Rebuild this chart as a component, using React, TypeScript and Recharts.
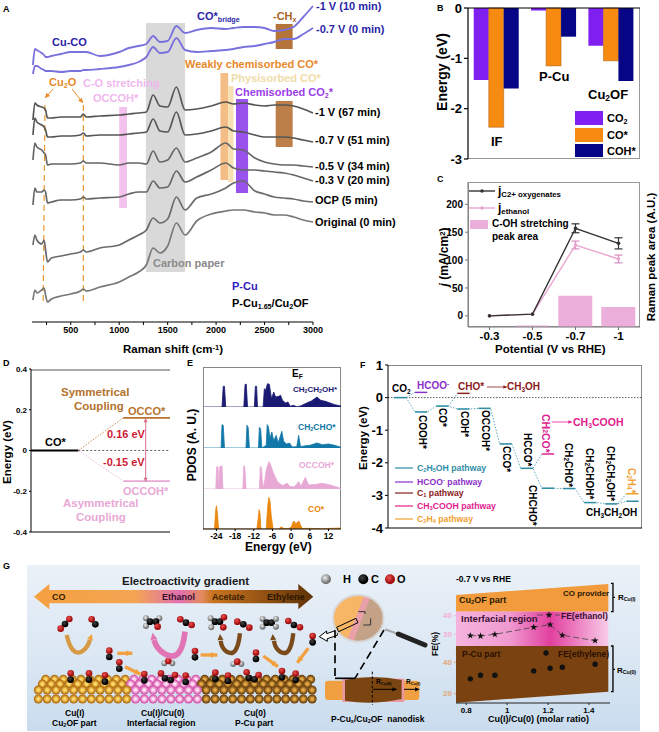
import React from "react";
import {
  Area, AreaChart, Bar, BarChart, ComposedChart, ErrorBar, Line, LineChart,
  ReferenceArea, ReferenceLine, Symbols, XAxis, YAxis,
} from "recharts";

const font = '"Liberation Sans", Arial, sans-serif';
const axisTick = (size: number, fill = "#000") => ({ fontSize: size, fontWeight: 700, fill, fontFamily: font });

// A: operando Raman spectra (intensity in a.u.)
const ramanShift = [110, 130, 150, 200, 225, 240, 260, 300, 400, 500, 600, 630, 660, 800, 1000, 1100, 1200, 1280, 1350, 1420, 1500, 1590, 1680, 1800, 1950, 2100, 2180, 2280, 2400, 2500, 2600, 2700, 2800, 2900, 3000];
const pCu10min = [257, 273, 272, 269, 267, 265, 265, 266, 268, 270, 270, 270, 270, 266, 270, 274, 276, 278, 286, 280, 281, 296, 289, 292, 294, 293, 294, 295, 295, 294, 291, 292, 295, 305, 316];
const pCu0min = [248, 256, 256, 253, 252, 251, 251, 251, 250, 251, 251, 252, 252, 253, 255, 257, 260, 265, 275, 269, 270, 284, 272, 270, 271, 272, 273, 275, 276, 278, 280, 283, 283, 288, 294];
const oxide67min = [202, 219, 217, 215, 214, 212, 204, 204, 205, 205, 205, 208, 205, 206, 207, 208, 209, 210, 227, 216, 215, 235, 212, 213, 216, 220, 218, 219, 217, 216, 217, 217, 216, 213, 209];
const oxide51min = [187, 204, 200, 197, 195, 192, 185, 185, 186, 186, 187, 189, 186, 187, 187, 188, 189, 190, 203, 191, 190, 210, 187, 188, 191, 195, 191, 190, 187, 185, 185, 185, 184, 182, 180];
const oxide34min = [162, 179, 175, 172, 169, 167, 157, 158, 158, 158, 159, 161, 159, 159, 157, 159, 159, 158, 171, 160, 162, 174, 160, 164, 170, 179, 173, 172, 164, 160, 158, 157, 157, 156, 155];
const oxide20min = [117, 134, 130, 130, 132, 130, 119, 120, 122, 122, 123, 125, 123, 124, 125, 128, 130, 130, 141, 134, 135, 151, 140, 145, 152, 159, 154, 152, 152, 151, 150, 149, 147, 144, 141];
const oxideOcp = [77, 87, 82, 78, 82, 72, 60, 64, 66, 68, 70, 72, 70, 74, 77, 82, 87, 92, 104, 99, 103, 125, 112, 124, 128, 134, 139, 141, 131, 128, 125, 124, 123, 121, 120];
const oxideOriginal = [22, 32, 29, 32, 34, 27, 20, 23, 26, 28, 31, 33, 31, 35, 40, 45, 50, 57, 74, 69, 76, 99, 87, 101, 108, 111, 112, 112, 110, 109, 107, 107, 105, 102, 100];
const ramanTicks = [250, 500, 750, 1000, 1250, 1500, 1750, 2000, 2250, 2500, 2750, 3000];

// B: adsorption energies
const sites = ["IF", "P-Cu", "Cu2OF"];
const co2Energy = [-1.43, -0.05, -0.75];
const coEnergy = [-2.37, -1.15, -1.05];
const cohEnergy = [-1.6, -0.57, -1.45];

// C: partial current density and peak area
const potentials = ["-0.3", "-0.5", "-0.7", "-1"];
const jOxygenates = [0, 3, 157, 130];
const jOxygenatesErr = [0, 0, 8, 10];
const jEthanol = [0, 3, 127, 102];
const jEthanolErr = [0, 0, 7, 7];
const peakArea = [0, 1, 21.6, 13.8];

// D: coupling barriers
const couplingEnergy = { co: 0, occo: 0.16, occoh: -0.15 };

// E: PDOS curves
const coPdosE = [-28, -24.6, -24.3, -24, -23.7, -23.3, -11, -10.6, -10.3, -10, -9.7, -8, -7.6, -7.2, -6.8, -6.4, -5.8, -4, -3.4, -3, -2.5, -1, 0, 0.5, 0.9, 1.5, 2, 2.5, 3, 3.6, 5, 10, 16];
const coPdos = [0, 0, 50, 70, 50, 0, 0, 30, 58, 45, 0, 0, 60, 95, 85, 40, 0, 0, 5, 6, 2, 1, 5, 18, 24, 16, 20, 24, 12, 1, 2, 1, 3];
const occohE = [-28, -24.2, -23.9, -23.5, -23.2, -22.9, -22.6, -22.2, -21.9, -15.5, -15.2, -14.9, -14.5, -10.2, -9.9, -9.5, -9.1, -8.4, -8, -7.5, -7.1, -6.7, -6.2, -5.7, -5.2, -4.4, -3.5, -2.6, -1.4, -0.4, 1, 2.4, 3.2, 4.5, 5.6, 8, 10, 12.5, 16];
const occohPdos = [0, 0, 66, 68, 5, 65, 70, 68, 0, 0, 70, 68, 0, 0, 68, 62, 0, 30, 58, 72, 82, 76, 62, 48, 38, 22, 15, 10, 18, 8, 6, 22, 8, 35, 12, 14, 17, 12, 2];
const ch2choE = [-28, -22.5, -22.2, -21.8, -21.4, -14.5, -14.2, -13.8, -13.4, -10.5, -10.2, -9.8, -9.4, -8, -7.7, -7.3, -6.8, -6.2, -5.6, -4.8, -4.2, -3.5, -3, -2.4, -1.5, -0.5, 0.3, 1.8, 2.4, 3, 4, 6, 8.3, 10, 12, 14, 16];
const ch2choPdos = [0, 0, 70, 68, 0, 0, 68, 62, 0, 0, 62, 58, 0, 8, 70, 64, 30, 48, 22, 38, 15, 35, 50, 20, 12, 15, 3, 4, 38, 4, 6, 8, 15, 10, 12, 8, 2];
const ch2ch2ohE = [-28, -22.2, -21.8, -21.4, -21, -15.2, -14.8, -14.4, -14, -11.8, -11.5, -11.1, -10.8, -9, -8.6, -8.2, -7.6, -7, -6.3, -5.6, -5, -4, -3.4, -2.8, -1.8, -1, -0.3, 0.7, 1.8, 3, 5, 6.5, 8.3, 9.5, 11, 12.5, 14, 16];
const ch2ch2ohPdos = [0, 0, 62, 62, 0, 0, 68, 68, 0, 0, 62, 62, 0, 0, 55, 50, 70, 68, 25, 45, 30, 32, 35, 20, 12, 15, 2, 5, 1, 3, 12, 18, 30, 20, 17, 12, 7, 3];
const pdosTicks = [-24, -18, -12, -6, 0, 6, 12];

// F: free energy diagram
const pathwayEnergy = [0, -0.44, -0.26, -0.35, -0.33, -1.42, -2.17, -2.78, -2.79, -3.22, -3.26, -3.18];
const branchStep = [1, 3, 7, 11];
const branchFrom = [0, 2, 6, 10];
const branchEnergy = [0.16, 0.13, -1.73, -2.95];
const branchColors = ["#8b2fc9", "#8b2020", "#e0208f", "#f0a030"];

// G: FE vs Cu(I)/Cu(0) ratio
const molarRatio = [0.82, 0.87, 0.94, 1.13, 1.21, 1.27, 1.43];
const feEthanol = [29.3, 29.1, 30, 33.8, 35.2, 29.5, 26.6];
const feEthylene = [29.4, 31.7, 31.7, 34.5, 36.2, 36.8, 38.7];

const ramanRows = ramanShift.map((shift, i) => ({
  shift,
  a: pCu10min[i], b: pCu0min[i], c: oxide67min[i], d: oxide51min[i],
  e: oxide34min[i], f: oxide20min[i], g: oxideOcp[i], h: oxideOriginal[i],
}));
const energyRows = sites.map((site, i) => ({ site, co2: co2Energy[i], co: coEnergy[i], coh: cohEnergy[i] }));
const currentRows = potentials.map((p, i) => ({
  p, oxy: jOxygenates[i], oxyErr: jOxygenatesErr[i], eth: jEthanol[i], ethErr: jEthanolErr[i], area: peakArea[i],
}));
const zip = (xs: number[], ys: number[]) => xs.map((x, i) => ({ x, y: ys[i] }));
const feRows = molarRatio.map((x, i) => ({ x, eth: feEthanol[i], ethy: feEthylene[i] }));

const level = (i: number, e: number) => [{ x: i - 0.29, e }, { x: i + 0.29, e }];
const pathwayRows = pathwayEnergy.flatMap((e, i) => level(i, e));

function Sub({ children }: any) {
  return <sub style={{ fontSize: ".65em", lineHeight: 0, verticalAlign: "-.25em" }}>{children}</sub>;
}
function Sup({ children }: any) {
  return <sup style={{ fontSize: ".65em", lineHeight: 0, verticalAlign: ".45em" }}>{children}</sup>;
}
// x, y = left edge and cap top of the text
function T({ x, y, s = 11, c = "#000", children }: any) {
  return (
    <div style={{ position: "absolute", left: x, top: y - 0.13 * s, fontSize: s, color: c, fontWeight: 700, lineHeight: 1, whiteSpace: "nowrap" }}>
      {children}
    </div>
  );
}
function RotUp({ cx, cy, s = 12, c = "#000", children }: any) {
  return (
    <div style={{ position: "absolute", left: cx, top: cy, fontSize: s, color: c, fontWeight: 700, lineHeight: 1, whiteSpace: "nowrap", transform: "translate(-50%,-50%) rotate(-90deg)" }}>
      {children}
    </div>
  );
}
function RotDown({ cx, y, s = 10, c = "#000", children }: any) {
  return (
    <div style={{ position: "absolute", left: cx - s / 2, top: y, fontSize: s, color: c, fontWeight: 700, lineHeight: 1, whiteSpace: "nowrap", writingMode: "vertical-rl" }}>
      {children}
    </div>
  );
}
function Box({ x1, y1, x2, y2, style }: any) {
  return <div style={{ position: "absolute", left: x1, top: y1, width: x2 - x1, height: y2 - y1, boxSizing: "border-box", ...style }} />;
}
function Head({ x, y, ang, size = 5, c }: any) {
  const a = (ang * Math.PI) / 180;
  const px = (t: number, w: number) => `${x - Math.cos(a) * t - Math.sin(a) * w},${y - Math.sin(a) * t + Math.cos(a) * w}`;
  return <polygon points={`${x},${y} ${px(size * 1.4, size * 0.7)} ${px(size * 1.4, -size * 0.7)}`} fill={c} />;
}
function Arrow({ x1, y1, x2, y2, c, sw = 1, size = 4 }: any) {
  const ang = (Math.atan2(y2 - y1, x2 - x1) * 180) / Math.PI;
  return (
    <g>
      <line x1={x1} y1={y1} x2={x2} y2={y2} stroke={c} strokeWidth={sw} />
      <Head x={x2} y={y2} ang={ang} size={size} c={c} />
    </g>
  );
}

function Molecule({ atoms }: { atoms: [string, number, number][] }) {
  const fill: any = { r: "url(#ballRed)", k: "url(#ballBlack)", h: "url(#ballGray)" };
  return <g>{atoms.map((a, i) => <circle key={i} cx={a[1]} cy={a[2]} r={a[0] === "h" ? 9 : 10} fill={fill[a[0]]} />)}</g>;
}

// illustration in panel G, in 3x coordinates
const flyingCo = [[328, 302], [358, 337], [585, 303], [768, 308], [938, 258], [212, 370], [267, 370], [315, 376], [433, 372], [557, 377], [646, 368], [846, 363], [887, 371]];
function Illustration() {
  const rows = [{ y: 388, dx: 22 }, { y: 402, dx: 12 }, { y: 420, dx: 0 }, { y: 447, dx: 0 }];
  const balls: React.ReactNode[] = [];
  rows.forEach((r, ri) => {
    for (let x = 115 + r.dx; x < 940; x += 26.5) {
      const z = x < 385 ? "ballGold" : x < 595 ? "ballPink" : "ballBrown";
      balls.push(<circle key={ri + "-" + x} cx={x} cy={r.y} r={13.5} fill={`url(#${z})`} />);
    }
  });
  return (
    <svg width={659} height={732} style={{ position: "absolute", left: 0, top: 0 }}>
      <defs>
        <linearGradient id="gradArrow" x1="0" x2="1" y1="0" y2="0">
          <stop offset="0" stopColor="#f5a040" />
          <stop offset="0.36" stopColor="#f3a552" />
          <stop offset="0.52" stopColor="#e070b0" />
          <stop offset="0.6" stopColor="#e48a60" />
          <stop offset="0.64" stopColor="#c9741f" />
          <stop offset="1" stopColor="#5f3208" />
        </linearGradient>
        <linearGradient id="gradPink" x1="0" x2="1" y1="0" y2="0">
          <stop offset="0" stopColor="#f5b4de" />
          <stop offset="0.35" stopColor="#f09ad0" />
          <stop offset="0.62" stopColor="#e2409f" />
          <stop offset="1" stopColor="#f8cce8" />
        </linearGradient>
        <radialGradient id="ballGold"><stop offset="0.25" stopColor="#ffd968" /><stop offset="1" stopColor="#a85f00" /></radialGradient>
        <radialGradient id="ballPink"><stop offset="0.25" stopColor="#ffe0f4" /><stop offset="1" stopColor="#d03fa0" /></radialGradient>
        <radialGradient id="ballBrown"><stop offset="0.2" stopColor="#e8ac48" /><stop offset="1" stopColor="#5a3000" /></radialGradient>
        <radialGradient id="ballRed" cx="0.4" cy="0.35"><stop offset="0" stopColor="#f05050" /><stop offset="1" stopColor="#a01010" /></radialGradient>
        <radialGradient id="ballBlack" cx="0.4" cy="0.35"><stop offset="0" stopColor="#444" /><stop offset="1" stopColor="#000" /></radialGradient>
        <radialGradient id="ballGray" cx="0.4" cy="0.35"><stop offset="0" stopColor="#f0f0f0" /><stop offset="1" stopColor="#777" /></radialGradient>
        <clipPath id="lens"><ellipse cx={85} cy={205} rx={76} ry={70} /></clipPath>
      </defs>
      <g transform="translate(0 550) scale(0.3333)">
        <polygon points="102,140 148,102 148,120 895,120 895,102 940,140 895,178 895,160 148,160 148,178" fill="url(#gradArrow)" />
        {balls}
        {flyingCo.map((p, i) => <Molecule key={i} atoms={[["r", p[0], p[1]], ["k", p[0], p[1] + 19]]} />)}
        <Molecule atoms={[["r", 483, 370], ["k", 495, 385], ["k", 512, 390], ["r", 525, 375]]} />
        <Molecule atoms={[["r", 684, 377], ["k", 684, 393]]} />
        <Molecule atoms={[["r", 740, 367], ["k", 747, 384], ["k", 764, 388], ["r", 776, 375]]} />
        <Molecule atoms={[["r", 208, 207], ["k", 195, 222], ["r", 182, 236]]} />
        <Molecule atoms={[["r", 275, 208], ["k", 286, 223]]} />
        <Molecule atoms={[["h", 438, 205], ["h", 438, 228], ["h", 478, 205], ["k", 450, 215], ["k", 468, 215], ["r", 473, 230]]} />
        <Molecule atoms={[["r", 541, 208], ["k", 558, 218], ["r", 575, 225]]} />
        <Molecule atoms={[["h", 632, 205], ["h", 634, 232], ["k", 645, 215], ["k", 660, 215], ["r", 672, 202], ["r", 670, 232]]} />
        <Molecule atoms={[["r", 712, 215], ["k", 730, 223], ["r", 748, 233]]} />
        <Molecule atoms={[["h", 788, 207], ["h", 788, 230], ["k", 800, 218], ["k", 815, 218], ["h", 828, 207], ["h", 828, 230]]} />
        <Molecule atoms={[["r", 865, 213], ["k", 882, 225], ["r", 900, 232]]} />
        <Molecule atoms={[["h", 493, 340], ["h", 517, 340], ["r", 505, 333]]} />
        <Molecule atoms={[["h", 700, 342], ["h", 724, 342], ["r", 712, 335]]} />
        <path d="M200 255 Q215 320 245 305 Q262 295 270 270" fill="none" stroke="#d69a45" strokeWidth={13} />
        <Head x={276} y={252} ang={-70} size={13} c="#f0a23c" />
        <path d="M555 245 Q545 340 495 312 Q470 298 462 270" fill="none" stroke="#e074b4" strokeWidth={17} />
        <Head x={458} y={248} ang={-100} size={15} c="#e074b4" />
        <path d="M720 250 Q712 325 680 305 Q665 295 662 272" fill="none" stroke="#7a4a1a" strokeWidth={13} />
        <Head x={660} y={252} ang={-95} size={13} c="#7a4a1a" />
        <path d="M880 250 Q872 325 840 305 Q825 295 822 272" fill="none" stroke="#7a4a1a" strokeWidth={13} />
        <Head x={818} y={252} ang={-95} size={13} c="#7a4a1a" />
        <Arrow x1={352} y1={310} x2={397} y2={310} c="#f2a040" sw={10} size={13} />
        <Arrow x1={375} y1={350} x2={422} y2={373} c="#f2a040" sw={10} size={13} />
        <Arrow x1={602} y1={315} x2={652} y2={315} c="#f2a040" sw={10} size={13} />
        <Arrow x1={790} y1={318} x2={834} y2={350} c="#f2a040" sw={10} size={13} />
        <Arrow x1={925} y1={295} x2={892} y2={338} c="#f2a040" sw={10} size={13} />
        <polygon points="958,260 980,243 980,251 1012,240 1012,256 982,266 982,274" fill="#fff" stroke="#000" strokeWidth={3} />
      </g>
      <g transform="translate(330 550) scale(0.3333)">
        <circle cx={-12} cy={88} r={15} fill="url(#ballGray)" />
        <circle cx={100} cy={88} r={15} fill="url(#ballBlack)" />
        <circle cx={180} cy={88} r={15} fill="url(#ballRed)" />
        <polygon points="378,135 835,102 835,185 378,185" fill="#f29b3c" />
        <rect x={378} y={185} width={457} height={103} fill="url(#gradPink)" />
        <polygon points="378,288 835,288 835,425 378,458" fill="#7a4210" />
        <path d="M843 100 H849 V185 H843 M849 142 H855" fill="none" stroke="#000" strokeWidth={4} />
        <path d="M843 288 H849 V425 H843 M849 358 H855" fill="none" stroke="#000" strokeWidth={4} />
        <rect x={-15} y={392} width={283} height={58} rx={10} fill="#f0a040" />
        <rect x={37} y={386} width={186} height={70} fill="#e898a0" />
        <path d="M45 390 Q127 372 215 390 L215 447 Q127 466 45 452 Z" fill="#7a4510" />
        <line x1={127} y1={365} x2={127} y2={465} stroke="#000" strokeWidth={3} strokeDasharray="8 6" />
        <Arrow x1={130} y1={418} x2={200} y2={418} c="#000" sw={3} size={9} />
        <Arrow x1={222} y1={418} x2={268} y2={418} c="#000" sw={3} size={9} />
        <line x1={15} y1={240} x2={15} y2={385} stroke="#000" strokeWidth={5} strokeDasharray="24 14" />
        <line x1={162} y1={240} x2={75} y2={385} stroke="#000" strokeWidth={5} strokeDasharray="24 14" />
        <line x1={15} y1={385} x2={75} y2={385} stroke="#000" strokeWidth={5} />
        <line x1={165} y1={238} x2={205} y2={252} stroke="#aaa" strokeWidth={7} />
        <line x1={205} y1={252} x2={285} y2={285} stroke="#222" strokeWidth={15} strokeLinecap="round" />
        <g clipPath="url(#lens)">
          <rect x={0} y={130} width={170} height={150} fill="#f7b566" />
          <polygon points="118,130 170,130 170,280 60,280" fill="#c4a288" />
          <polygon points="105,130 125,130 68,280 48,280" fill="#eaa0a8" />
        </g>
        <ellipse cx={85} cy={205} rx={76} ry={70} fill="none" stroke="#d8d8d8" strokeWidth={6} />
        <polygon points="20,232 78,205 84,218 26,245" fill="none" stroke="#000" strokeWidth={3} />
        <path d="M85 185 H105 V192 M122 205 V225 H100" fill="none" stroke="#333" strokeWidth={3} />
      </g>
    </svg>
  );
}

function PdosPanel({ top, x, y, color }: any) {
  return (
    <div style={{ position: "absolute", left: 203, top }}>
      <AreaChart width={138} height={35} data={zip(x, y)} margin={{ top: 0, right: 0, bottom: 0, left: 0 }}>
        <XAxis dataKey="x" type="number" domain={[-28.3, 16]} hide />
        <YAxis domain={[0, 105]} hide />
        <Area type="linear" dataKey="y" stroke={color} strokeWidth={0.8} fill={color} fillOpacity={1} isAnimationActive={false} dot={false} />
      </AreaChart>
    </div>
  );
}

function StarDot(props: any) {
  const { cx, cy, index } = props;
  return <Symbols key={index} type="star" cx={cx} cy={cy} size={15} fill="#111" />;
}

const abs = (left: number, top: number): React.CSSProperties => ({ position: "absolute", left, top });

export default function App() {
  const ramanLine = (key: string, color: string, width = 1.7) => (
    <Line key={key} type="monotone" dataKey={key} stroke={color} strokeWidth={width} dot={false} isAnimationActive={false} />
  );
  return (
    <div style={{ position: "absolute", left: 0, top: 0, width: 659, height: 732, background: "#fff", fontFamily: font, overflow: "hidden" }}>
      {/* panel G backdrop */}
      <div style={{ position: "absolute", left: 27, top: 565, width: 613, height: 166, background: "linear-gradient(to bottom, #eaf1f8 0%, #dbe7f3 55%, #c9dcee 100%)" }} />
      <Illustration />

      {/* A */}
      <div style={abs(0, 0)}>
        <LineChart width={330} height={345} data={ramanRows} margin={{ top: 0, right: 17, bottom: 0, left: 32 }}>
          <XAxis dataKey="shift" type="number" domain={[100, 3000]} ticks={ramanTicks} height={23} interval={0}
            tickFormatter={(v) => (v % 500 === 0 ? String(v) : "")} tick={axisTick(9)} tickSize={3} stroke="#000" />
          <YAxis domain={[0, 322]} hide />
          <ReferenceArea x1={1275} x2={1680} y1={50} y2={299} fill="#d9d9d9" fillOpacity={1} stroke="none" />
          <ReferenceArea x1={1000} x2={1080} y1={114} y2={215} fill="#f3c2ee" fillOpacity={1} stroke="none" />
          <ReferenceArea x1={2045} x2={2125} y1={142} y2={249} fill="#f5bd86" fillOpacity={1} stroke="none" />
          <ReferenceArea x1={2125} x2={2180} y1={140} y2={236} fill="#f6e0b4" fillOpacity={1} stroke="none" />
          <ReferenceArea x1={2205} x2={2330} y1={129} y2={223} fill="#9a52ec" fillOpacity={1} stroke="none" />
          <ReferenceArea x1={2615} x2={2790} y1={273} y2={298} fill="#b5743a" fillOpacity={1} stroke="none" />
          <ReferenceArea x1={2615} x2={2790} y1={175} y2={221} fill="#bd7f4a" fillOpacity={1} stroke="none" />
          <ReferenceLine segment={[{ x: 234, y: 217 }, { x: 215, y: 17 }]} stroke="#e8982c" strokeWidth={1.2} strokeDasharray="6 4" />
          <ReferenceLine segment={[{ x: 630, y: 217 }, { x: 630, y: 18 }]} stroke="#e8982c" strokeWidth={1.2} strokeDasharray="6 4" />
          {ramanLine("a", "#7a72dc", 1.9)}
          {ramanLine("b", "#7a72dc", 1.9)}
          {ramanLine("c", "#555")}
          {ramanLine("d", "#555")}
          {ramanLine("e", "#666")}
          {ramanLine("f", "#666")}
          {ramanLine("g", "#6a6a6a")}
          {ramanLine("h", "#777")}
        </LineChart>
      </div>

      {/* B */}
      <Box x1={468} y1={8} x2={640} y2={159} style={{ borderRight: "1px solid #999", borderBottom: "1px solid #999" }} />
      <div style={abs(420, 0)}>
        <BarChart width={220} height={168} data={energyRows} barCategoryGap="10%" barGap={0} margin={{ top: 8, right: 0, bottom: 9, left: 0 }}>
          <XAxis dataKey="site" orientation="top" hide />
          <YAxis domain={[-3, 0]} ticks={[-3, -2, -1, 0]} width={48} interval={0} tick={axisTick(13)} tickSize={4} stroke="#000" strokeWidth={1.2} />
          <Bar dataKey="co2" fill="#7f20f0" isAnimationActive={false} />
          <Bar dataKey="co" fill="#f78a10" stroke="#a9621a" strokeWidth={0.5} isAnimationActive={false} />
          <Bar dataKey="coh" fill="#050585" isAnimationActive={false} />
          <ReferenceLine y={0} stroke="#000" strokeWidth={1.2} />
        </BarChart>
      </div>

      {/* C */}
      <Box x1={468} y1={182} x2={640} y2={327} style={{ border: "1px solid #999" }} />
      <div style={abs(420, 182)}>
        <ComposedChart width={220} height={165} data={currentRows} barCategoryGap="10%" margin={{ top: 0, right: 0, bottom: 0, left: 0 }}>
          <XAxis dataKey="p" height={20} tick={axisTick(11.5)} tickSize={3} stroke="#777" interval={0} />
          <YAxis yAxisId="j" domain={[-20, 240]} ticks={[0, 50, 100, 150, 200]} width={48} interval={0} tick={axisTick(10)} tickSize={3} stroke="#777" />
          <YAxis yAxisId="area" orientation="right" domain={[0, 100]} hide />
          <Bar yAxisId="area" dataKey="area" fill="#ecaedb" isAnimationActive={false} />
          <Line yAxisId="j" dataKey="eth" stroke="#e9a6d2" strokeWidth={1.4} dot={{ r: 1.8, fill: "#e9a6d2", stroke: "none" }} isAnimationActive={false}>
            <ErrorBar dataKey="ethErr" width={4} stroke="#d98cc0" strokeWidth={1.2} direction="y" />
          </Line>
          <Line yAxisId="j" dataKey="oxy" stroke="#333" strokeWidth={1.4} dot={{ r: 1.8, fill: "#333", stroke: "none" }} isAnimationActive={false}>
            <ErrorBar dataKey="oxyErr" width={4} stroke="#333" strokeWidth={1.2} direction="y" />
          </Line>
        </ComposedChart>
      </div>

      {/* D */}
      <Box x1={31} y1={369} x2={170} y2={370} style={{ background: "#aaa", height: 2 }} />
      <div style={abs(0, 360)}>
        <ComposedChart width={175} height={180} margin={{ top: 9, right: 5, bottom: 8, left: 0 }}>
          <XAxis dataKey="x" type="number" domain={[0, 1]} hide />
          <YAxis domain={[-0.4, 0.4]} ticks={[-0.4, -0.2, 0, 0.2, 0.4]} width={31} interval={0}
            tickFormatter={(v) => String(v)} tick={axisTick(8)} tickSize={2} stroke="#000" />
          <ReferenceLine segment={[{ x: 0, y: -0.4 }, { x: 1, y: -0.4 }]} stroke="#000" strokeWidth={1} />
          <ReferenceLine segment={[{ x: 0.34, y: 0 }, { x: 1, y: 0 }]} stroke="#333" strokeDasharray="2 2" strokeWidth={0.8} />
          <Line data={[{ x: 0.34, e: couplingEnergy.co }, { x: 0.664, e: couplingEnergy.occo }]} dataKey="e" stroke="#b5732d" strokeDasharray="1.5 1.5" strokeWidth={0.8} dot={false} isAnimationActive={false} />
          <Line data={[{ x: 0.34, e: couplingEnergy.co }, { x: 0.664, e: couplingEnergy.occoh }]} dataKey="e" stroke="#e8a8d5" strokeDasharray="1.5 1.5" strokeWidth={0.8} dot={false} isAnimationActive={false} />
          <Line data={[{ x: 0, e: couplingEnergy.co }, { x: 0.34, e: couplingEnergy.co }]} dataKey="e" stroke="#000" strokeWidth={1.8} dot={false} isAnimationActive={false} />
          <Line data={[{ x: 0.664, e: couplingEnergy.occo }, { x: 1, e: couplingEnergy.occo }]} dataKey="e" stroke="#b5732d" strokeWidth={1.8} dot={false} isAnimationActive={false} />
          <Line data={[{ x: 0.664, e: couplingEnergy.occoh }, { x: 1, e: couplingEnergy.occoh }]} dataKey="e" stroke="#e8a8d5" strokeWidth={1.8} dot={false} isAnimationActive={false} />
          <ReferenceLine segment={[{ x: 0.825, y: couplingEnergy.occo }, { x: 0.825, y: couplingEnergy.occoh }]} stroke="#d8708c" strokeWidth={1} />
        </ComposedChart>
      </div>

      {/* E */}
      <Box x1={203} y1={367} x2={341} y2={529} style={{ borderTop: "1px solid #888", borderLeft: "1px solid #888", borderRight: "1px solid #888" }} />
      <PdosPanel top={372} x={ch2ch2ohE} y={ch2ch2ohPdos} color="#1a1a72" />
      <PdosPanel top={413} x={ch2choE} y={ch2choPdos} color="#1278a8" />
      <PdosPanel top={454} x={occohE} y={occohPdos} color="#e8a8d5" />
      <PdosPanel top={494} x={coPdosE} y={coPdos} color="#ea870f" />
      <div style={abs(195, 367)}>
        <LineChart width={156} height={180} data={pdosTicks.map((x) => ({ x }))} margin={{ top: 0, right: 10, bottom: 0, left: 8 }}>
          <XAxis dataKey="x" type="number" domain={[-28.3, 16]} ticks={pdosTicks} height={18} interval={0} tick={axisTick(8.5)} tickSize={2} stroke="#000" />
          <YAxis domain={[0, 162]} hide />
          <ReferenceLine x={0} stroke="#333" strokeDasharray="1.5 1.5" strokeWidth={0.8} />
          <ReferenceLine segment={[{ x: -20.8, y: 162 }, { x: -24, y: 21 }]} stroke="#c8508c" strokeDasharray="1.5 1.5" strokeWidth={0.8} />
        </LineChart>
      </div>

      {/* F */}
      <Box x1={388} y1={365} x2={642} y2={528} style={{ borderTop: "1px solid #888", borderRight: "1px solid #888" }} />
      <div style={abs(345, 355)}>
        <ComposedChart width={297} height={181} margin={{ top: 10, right: 0, bottom: 8, left: 0 }}>
          <XAxis dataKey="x" type="number" domain={[-0.57, 11.45]} hide />
          <YAxis domain={[-4, 1]} ticks={[-4, -3, -2, -1, 0, 1]} width={43} interval={0} tick={axisTick(13)} tickSize={3} stroke="#000" />
          <ReferenceLine segment={[{ x: -0.57, y: -4 }, { x: 11.45, y: -4 }]} stroke="#000" />
          <ReferenceLine y={0} stroke="#333" strokeDasharray="1.5 1.5" strokeWidth={0.8} />
          <Line data={pathwayRows} dataKey="e" stroke="#3a8fa8" strokeWidth={0.8} strokeDasharray="1.5 1.5" dot={false} isAnimationActive={false} />
          {branchStep.map((step, i) => (
            <Line key={"link" + step} data={[{ x: branchFrom[i] + 0.29, e: pathwayEnergy[branchFrom[i]] }, { x: step - 0.29, e: branchEnergy[i] }]}
              dataKey="e" stroke="#3a8fa8" strokeWidth={0.8} strokeDasharray="1.5 1.5" dot={false} isAnimationActive={false} />
          ))}
          {pathwayEnergy.map((e, i) => (
            <Line key={"lvl" + i} data={level(i, e)} dataKey="e" stroke="#2f8ea6" strokeWidth={1.5} dot={false} isAnimationActive={false} />
          ))}
          {branchStep.map((step, i) => (
            <Line key={"br" + step} data={level(step, branchEnergy[i])} dataKey="e" stroke={branchColors[i]} strokeWidth={1.5} dot={false} isAnimationActive={false} />
          ))}
        </ComposedChart>
      </div>

      {/* G FE chart, two y scales */}
      <div style={abs(436, 575)}>
        <ComposedChart width={174} height={149} data={feRows} margin={{ top: 8, right: 0, bottom: 0, left: 0 }}>
          <XAxis dataKey="x" type="number" domain={[0.75, 1.503]} ticks={[0.8, 1, 1.2, 1.4]} height={21} interval={0}
            tickFormatter={(v) => String(v)} tick={axisTick(8)} tickSize={2} stroke="#222" />
          <YAxis domain={[14, 90.6]} ticks={[20, 40]} width={20} interval={0} tick={axisTick(8, "#e0a878")} tickSize={2} stroke="#e0a878" axisLine={false} />
          <Line dataKey="ethy" stroke="none" dot={{ r: 2.7, fill: "#111", stroke: "none" }} isAnimationActive={false} />
        </ComposedChart>
      </div>
      <div style={abs(436, 575)}>
        <ComposedChart width={174} height={149} data={feRows} margin={{ top: 8, right: 0, bottom: 21, left: 0 }}>
          <XAxis dataKey="x" type="number" domain={[0.75, 1.503]} hide />
          <YAxis domain={[-6.8, 57.5]} ticks={[30, 40]} width={20} interval={0} tick={axisTick(8, "#f3b0d8")} tickSize={2} stroke="#f3b0d8" axisLine={false} />
          <Line dataKey="eth" stroke="#444" strokeWidth={0.8} strokeDasharray="6 3" dot={<StarDot />} isAnimationActive={false} />
        </ComposedChart>
      </div>

      {/* overlay marks: arrows, legend keys */}
      <svg width={659} height={732} style={{ position: "absolute", left: 0, top: 0, pointerEvents: "none" }}>
        <Arrow x1={53} y1={89} x2={45} y2={98} c="#e8892a" sw={1} size={3.5} />
        <Arrow x1={72} y1={89} x2={83} y2={103} c="#e8892a" sw={1} size={3.5} />
        <Head x={145.6} y={418} ang={-90} size={3} c="#d8708c" />
        <Head x={145.6} y={482} ang={90} size={3} c="#d8708c" />
        <Arrow x1={487} y1={387} x2={507} y2={387} c="#8b2020" sw={0.8} size={2.6} />
        <Arrow x1={552} y1={422} x2={572} y2={422} c="#e0208f" sw={0.8} size={2.6} />
        <line x1={469} y1={191} x2={495} y2={191} stroke="#333" strokeWidth={1.4} />
        <circle cx={482} cy={191} r={1.8} fill="#333" />
        <line x1={469} y1={208} x2={495} y2={208} stroke="#e9a6d2" strokeWidth={1.4} />
        <circle cx={482} cy={208} r={1.8} fill="#e9a6d2" />
        <line x1={395} y1={468} x2={413} y2={468} stroke="#2f8ea6" strokeWidth={1.2} />
        <line x1={395} y1={482} x2={413} y2={482} stroke="#8b2fc9" strokeWidth={1.2} />
        <line x1={395} y1={493} x2={413} y2={493} stroke="#8b2020" strokeWidth={1.2} />
        <line x1={395} y1={506} x2={413} y2={506} stroke="#e0208f" strokeWidth={1.2} />
        <line x1={395} y1={519} x2={413} y2={519} stroke="#f0a030" strokeWidth={1.2} />
        <circle cx={546} cy={653} r={2.7} fill="#111" />
        <line x1={537} y1={615} x2={560} y2={615} stroke="#444" strokeWidth={0.8} strokeDasharray="6 3" />
        <Symbols type="star" cx={549} cy={615} size={15} fill="#111" />
      </svg>
      <Box x1={575} y1={111} x2={603} y2={125} style={{ background: "#7f20f0" }} />
      <Box x1={575} y1={128} x2={603} y2={142} style={{ background: "#f78a10" }} />
      <Box x1={575} y1={144} x2={603} y2={157} style={{ background: "#050585" }} />
      <Box x1={470} y1={220} x2={488} y2={229} style={{ background: "#ecaedb" }} />

      {/* panel letters */}
      <T x={3} y={6} s={9}>A</T>
      <T x={437} y={5} s={9}>B</T>
      <T x={437} y={176} s={9}>C</T>
      <T x={3} y={360} s={9}>D</T>
      <T x={187} y={360} s={9}>E</T>
      <T x={360} y={362} s={9}>F</T>
      <T x={3} y={563} s={9}>G</T>

      {/* A text */}
      <T x={52} y={38} c="#2a1fa8">Cu-CO</T>
      <T x={197} y={12} c="#2a1fa8">CO*<Sub>bridge</Sub></T>
      <T x={273} y={12} c="#a8642a">-CH<Sub>x</Sub></T>
      <T x={316} y={2} c="#2a1fa8">-1 V (10 min)</T>
      <T x={316} y={25} c="#2a1fa8">-0.7 V (0 min)</T>
      <T x={185} y={60} c="#e8892a">Weakly chemisorbed CO*</T>
      <T x={231} y={74} c="#f0dca8">Physisorbed CO*</T>
      <T x={235} y={88} c="#9b40e8">Chemisorbed CO<Sub>2</Sub>*</T>
      <T x={49} y={78} c="#e8892a">Cu<Sub>2</Sub>O</T>
      <T x={83} y={79} c="#f0b8ee">C-O stretching</T>
      <T x={93} y={94} c="#f0b8ee">OCCOH*</T>
      <T x={315} y={108}>-1 V (67 min)</T>
      <T x={315} y={136}>-0.7 V (51 min)</T>
      <T x={315} y={162}>-0.5 V (34 min)</T>
      <T x={315} y={176}>-0.3 V (20 min)</T>
      <T x={315} y={196}>OCP (5 min)</T>
      <T x={315} y={218}>Original (0 min)</T>
      <T x={153} y={259} c="#8a8a8a">Carbon paper</T>
      <T x={232} y={282} c="#3020c0">P-Cu</T>
      <T x={232} y={299}>P-Cu<Sub>1.65</Sub>/Cu<Sub>2</Sub>OF</T>
      <T x={123} y={345} s={11.5}>Raman shift (cm<Sup>-1</Sup>)</T>

      {/* B text */}
      <RotUp cx={442} cy={72} s={14}>Energy (eV)</RotUp>
      <T x={491} y={137} s={13}>IF</T>
      <T x={539} y={72} s={13}>P-Cu</T>
      <T x={588} y={90} s={13}>Cu<Sub>2</Sub>OF</T>
      <T x={607} y={114} s={11}>CO<Sub>2</Sub></T>
      <T x={607} y={131} s={11}>CO*</T>
      <T x={607} y={147} s={11}>COH*</T>

      {/* C text */}
      <RotUp cx={444} cy={257} s={12}><i>j</i> (mA/cm<Sup>2</Sup>)</RotUp>
      <RotUp cx={652} cy={257} s={11.5}>Raman peak area (A.U.)</RotUp>
      <T x={498} y={187} s={12}>j<Sub>C2+ oxygenates</Sub></T>
      <T x={498} y={204} s={12}>j<Sub>ethanol</Sub></T>
      <T x={492} y={220} s={10}>C-OH stretching</T>
      <T x={492} y={233} s={10}>peak area</T>
      <T x={495} y={345} s={11.5}>Potential (V vs RHE)</T>

      {/* D text */}
      <RotUp cx={8} cy={452} s={11.5}>Energy (eV)</RotUp>
      <T x={61} y={388} s={11.5} c="#b5732d">Symmetrical</T>
      <T x={74} y={402} s={11.5} c="#b5732d">Coupling</T>
      <T x={128} y={407} s={11} c="#b5732d">OCCO*</T>
      <T x={45} y={438} s={11}>CO*</T>
      <T x={107} y={430} s={11} c="#d01a35">0.16 eV</T>
      <T x={103} y={458} s={11} c="#d01a35">-0.15 eV</T>
      <T x={123} y={487} s={11} c="#e8a8d5">OCCOH*</T>
      <T x={63} y={499} s={11.5} c="#e8a8d5">Asymmetrical</T>
      <T x={76} y={513} s={11.5} c="#e8a8d5">Coupling</T>

      {/* E text */}
      <RotUp cx={192} cy={445} s={12}>PDOS (A. U.)</RotUp>
      <T x={245} y={543} s={12}>Energy (eV)</T>
      <T x={292} y={370} s={10}>E<Sub>F</Sub></T>
      <T x={293} y={387} s={8} c="#1a1a72">CH<Sub>2</Sub>CH<Sub>2</Sub>OH*</T>
      <T x={298} y={424} s={8.5} c="#1278a8">CH<Sub>2</Sub>CHO*</T>
      <T x={299} y={462} s={8.5} c="#e8a8d5">OCCOH*</T>
      <T x={308} y={506} s={8.5} c="#ea870f">CO*</T>

      {/* F text */}
      <RotUp cx={364} cy={438} s={11.5}>Energy (eV)</RotUp>
      <T x={392} y={385} s={10}>CO<Sub>2</Sub></T>
      <T x={417} y={382} s={10} c="#8b2fc9">HCOO<Sup>-</Sup></T>
      <T x={458} y={383} s={10} c="#8b2020">CHO*</T>
      <T x={507} y={383} s={10} c="#8b2020">CH<Sub>3</Sub>OH</T>
      <T x={573} y={418} s={10.5} c="#e0208f">CH<Sub>3</Sub>COOH</T>
      <T x={586} y={509} s={10}>CH<Sub>3</Sub>CH<Sub>2</Sub>OH</T>
      <RotDown cx={422} y={415} >COOH*</RotDown>
      <RotDown cx={442} y={408} >CO*</RotDown>
      <RotDown cx={464} y={411} >COH*</RotDown>
      <RotDown cx={485} y={410} >OCCOH*</RotDown>
      <RotDown cx={506} y={446} >CCO*</RotDown>
      <RotDown cx={527} y={433} >HCCO*</RotDown>
      <RotDown cx={532} y={485} >CHCHO*</RotDown>
      <RotDown cx={546} y={414} c="#e0208f" s={10.5}>CH<Sub>2</Sub>CO*</RotDown>
      <RotDown cx={568} y={443} >CH<Sub>2</Sub>CHO*</RotDown>
      <RotDown cx={589} y={448} >CH<Sub>2</Sub>CHOH*</RotDown>
      <RotDown cx={610} y={446} >CH<Sub>2</Sub>CH<Sub>2</Sub>OH*</RotDown>
      <RotDown cx={631} y={468} c="#f0a030">C<Sub>2</Sub>H<Sub>4</Sub>*</RotDown>
      <T x={417} y={465} s={8.7} c="#2f8ea6">C<Sub>2</Sub>H<Sub>5</Sub>OH pathway</T>
      <T x={417} y={479} s={8.7} c="#8b2fc9">HCOO<Sup>-</Sup> pathway</T>
      <T x={417} y={490} s={8.7} c="#8b2020">C<Sub>1</Sub> pathway</T>
      <T x={417} y={503} s={8.7} c="#e0208f">CH<Sub>3</Sub>COOH pathway</T>
      <T x={417} y={516} s={8.7} c="#f0a030">C<Sub>2</Sub>H<Sub>4</Sub> pathway</T>

      {/* G text */}
      <T x={122} y={577} s={11.5} c="#1a1a1a">Electroactivity gradient</T>
      <T x={52} y={594} s={9} c="#3a2000">CO</T>
      <T x={162} y={594} s={9} c="#3a1030">Ethanol</T>
      <T x={212} y={594} s={9} c="#3a2000">Acetate</T>
      <T x={267} y={594} s={9} c="#2a1500">Ethylene</T>
      <T x={65} y={710} s={8.5}>Cu(I)</T>
      <T x={52} y={720} s={8.5}>Cu<Sub>2</Sub>OF part</T>
      <T x={141} y={710} s={8.5}>Cu(I)/Cu(0)</T>
      <T x={127} y={720} s={8.5}>Interfacial region</T>
      <T x={244} y={710} s={8.5}>Cu(0)</T>
      <T x={235} y={720} s={8.5}>P-Cu part</T>
      <T x={343} y={575} s={11}>H</T>
      <T x={371} y={575} s={11}>C</T>
      <T x={397} y={575} s={11}>O</T>
      <T x={331} y={716} s={8.5}>P-Cu<Sub>x</Sub>/Cu<Sub>2</Sub>OF&nbsp; nanodisk</T>
      <T x={376} y={680} s={6.5}>R<Sub>Cu(0)</Sub></T>
      <T x={406} y={680} s={6.5}>R<Sub>Cu(I)</Sub></T>
      <T x={456} y={576} s={8.5}>-0.7 V vs RHE</T>
      <T x={459} y={597} s={9} c="#2a1a00">Cu<Sub>2</Sub>OF part</T>
      <T x={563} y={591} s={8} c="#2a1a00">CO provider</T>
      <T x={461} y={615} s={9.5} c="#3a1030">Interfacial region</T>
      <T x={561} y={613} s={8.5} c="#3a1030">FE(ethanol)</T>
      <T x={462} y={651} s={8.5} c="#2a1000">P-Cu part</T>
      <T x={558} y={651} s={8.5} c="#2a1000">FE(ethylene)</T>
      <RotUp cx={435} cy={644} s={8.5}>FE(%)</RotUp>
      <T x={488} y={716} s={9}>Cu(I)/Cu(0) (molar ratio)</T>
      <T x={618} y={595} s={8}>R<Sub>Cu(I)</Sub></T>
      <T x={617} y={668} s={8}>R<Sub>Cu(0)</Sub></T>
    </div>
  );
}
